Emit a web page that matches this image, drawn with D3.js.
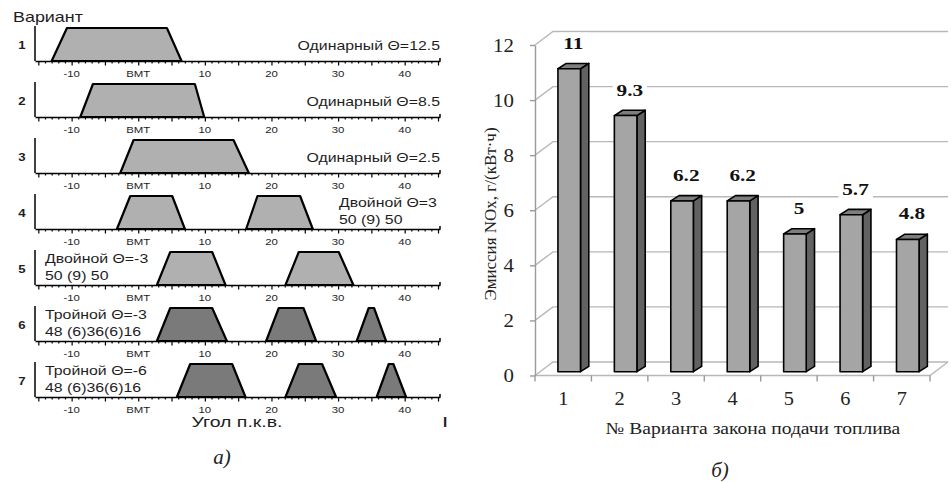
<!DOCTYPE html>
<html>
<head>
<meta charset="utf-8">
<script src="https://cdn.jsdelivr.net/npm/d3@7"></script>
<style>
  body { margin: 0; background: #fff; }
  svg { display: block; }
</style>
</head>
<body>
<svg id="chart" width="951" height="482"></svg>
<script>
// ---- Injection law variants (crank angle, degrees) ----
// every pulse: [start, top start, top end, end]
const variantIds = ["1", "2", "3", "4", "5", "6", "7"];
const pulses = [
  [[-13.0, -10.7, 4.3, 6.5]],
  [[-8.7, -6.8, 8.5, 9.9]],
  [[-2.7, -0.7, 14.3, 16.6]],
  [[-3.2, -1.2, 5.1, 7.0], [16.2, 17.9, 24.3, 26.2]],
  [[2.8, 4.8, 11.1, 13.1], [22.1, 24.1, 30.1, 32.3]],
  [[2.8, 4.8, 11.1, 13.3], [19.2, 21.1, 24.8, 26.7], [32.8, 34.6, 35.4, 37.2]],
  [[5.8, 7.8, 14.1, 16.1], [22.1, 24.1, 27.6, 29.7], [35.8, 37.6, 38.3, 40.2]]
];
const variantShade = ["light", "light", "light", "light", "light", "dark", "dark"];
const variantNotes = [
  ["Одинарный Θ=12.5"],
  ["Одинарный Θ=8.5"],
  ["Одинарный Θ=2.5"],
  ["Двойной Θ=3", "50 (9) 50"],
  ["Двойной Θ=-3", "50 (9) 50"],
  ["Тройной  Θ=-3", "48 (6)36(6)16"],
  ["Тройной  Θ=-6", "48 (6)36(6)16"]
];
const angleTicks = [-10, 0, 10, 20, 30, 40];

// ---- NOx emission for each variant, g/(kW·h) ----
const barCategories = ["1", "2", "3", "4", "5", "6", "7"];
const noxValues = [11, 9.3, 6.2, 6.2, 5, 5.7, 4.8];
const noxTicks = [0, 2, 4, 6, 8, 10, 12];

const svg = d3.select("#chart");

// text drawn slightly wide, as in the original figure
function wideText(g, x, y, str, o) {
  const t = g.append("text")
    .attr("transform", `translate(${x},${y}) scale(${o.sx || 1},1)`)
    .attr("text-anchor", o.anchor || "middle")
    .attr("dy", o.dy || "0.35em")
    .attr("font-size", o.size)
    .attr("fill", o.color || "#111")
    .text(str);
  if (o.weight) t.attr("font-weight", o.weight);
  if (o.style) t.attr("font-style", o.style);
  if (o.family) t.attr("font-family", o.family);
  return t;
}

/* ================= Left panel: injection laws ================= */
const left = svg.append("g").attr("font-family", "'Liberation Sans', Arial, sans-serif");
const SXL = 1.22;
const ink = "#1e1e1e";
const ang = d3.scaleLinear().domain([-15.5, 45.3]).range([35, 440]);
const rowBase = d3.scalePoint().domain(variantIds).range([61, 397]);
const lift = d3.scaleLinear().domain([0, 1]).range([0, -33]);
const shade = { light: "#b0b0b0", dark: "#7a7a7a" };

wideText(left, 13, 17, "Вариант", { size: 14, anchor: "start", sx: 1.28, color: ink });

variantIds.forEach((id, i) => {
  const y0 = rowBase(id);
  const row = left.append("g");

  // fuel pulses
  row.selectAll("path.pulse").data(pulses[i]).join("path")
    .attr("class", "pulse")
    .attr("d", p => d3.line()([
      [ang(p[0]), y0 + lift(0)], [ang(p[1]), y0 + lift(1)],
      [ang(p[2]), y0 + lift(1)], [ang(p[3]), y0 + lift(0)]
    ]) + "Z")
    .attr("fill", shade[variantShade[i]])
    .attr("stroke", "#000")
    .attr("stroke-width", 2.2)
    .attr("stroke-linejoin", "round");

  // vertical axis
  row.append("line")
    .attr("x1", ang.range()[0]).attr("x2", ang.range()[0])
    .attr("y1", y0).attr("y2", y0 - 35)
    .attr("stroke", "#000").attr("stroke-width", 1.5);

  // angle axis: minor ticks every degree, longer every 5
  const axis = d3.axisBottom(ang)
    .tickValues(d3.range(-15, 46))
    .tickSize(2.5).tickSizeOuter(0).tickFormat("");
  const ag = row.append("g").attr("transform", `translate(0,${y0})`).call(axis);
  ag.select(".domain").attr("stroke", "#000").attr("stroke-width", 1.6);
  ag.selectAll(".tick line").attr("stroke", "#000").attr("stroke-width", 1.2)
    .attr("y2", d => (d % 5 === 0 ? 4.5 : 2.5));
  row.append("line")
    .attr("x1", ang.range()[1]).attr("x2", ang.range()[1])
    .attr("y1", y0).attr("y2", y0 - 3)
    .attr("stroke", "#000").attr("stroke-width", 1.5);

  angleTicks.forEach(v => {
    wideText(row, ang(v), y0 + 12.5, v === 0 ? "ВМТ" : String(v), { size: 9.5, sx: 1.2, color: ink });
  });

  // variant number
  wideText(row, 22, y0 - 16, id, { size: 11, weight: "bold", sx: 1.2, color: ink });

  // description
  const notes = variantNotes[i];
  if (notes.length === 1) {
    wideText(row, 440, y0 - 16, notes[0], { size: 13, anchor: "end", sx: SXL, color: ink });
  } else {
    const nx = i === 3 ? 339 : 45;
    wideText(row, nx, y0 - 26.5, notes[0], { size: 13, anchor: "start", sx: SXL, color: ink });
    wideText(row, nx, y0 - 10, notes[1], { size: 13, anchor: "start", sx: SXL, color: ink });
  }
});

wideText(left, 237, 427, "Угол п.к.в.", { size: 15, sx: 1.3, dy: "0", color: ink });
wideText(left, 445, 427, "I", { size: 15, weight: "bold", dy: "0", color: ink });
wideText(svg, 222, 457, "а)", {
  size: 21, style: "italic", family: "'Liberation Serif', 'Times New Roman', serif", color: "#222"
});

/* ================= Right panel: NOx emission ================= */
const right = svg.append("g").attr("font-family", "'Liberation Serif', 'Times New Roman', serif");
const y = d3.scaleLinear().domain([0, 12]).range([375.5, 45]);
const x = d3.scaleBand().domain(barCategories).range([535, 930]);
const DX = 18, DY = -13.5;          // depth of the walls
const gridColor = "#b8b8b8";

// back wall gridlines and side wall diagonals
const grid = right.append("g").attr("fill", "none").attr("stroke", gridColor).attr("stroke-width", 1.4);
noxTicks.forEach(v => {
  grid.append("path").attr("d", d3.line()([
    [x.range()[0], y(v)], [x.range()[0] + DX, y(v) + DY], [x.range()[1] + DX, y(v) + DY]
  ]));
});
// floor front edge and right side
grid.append("path").attr("d", d3.line()([
  [x.range()[0], y(0)], [x.range()[1], y(0)], [x.range()[1] + DX, y(0) + DY]
]));

// value axis
const yAxis = d3.axisLeft(y).tickValues(noxTicks).tickSize(5).tickSizeOuter(0).tickFormat("");
const yg = right.append("g").attr("transform", `translate(${x.range()[0]},0)`).call(yAxis);
yg.select(".domain").attr("stroke", "#9a9a9a").attr("stroke-width", 1.4);
yg.selectAll(".tick line").attr("stroke", "#9a9a9a").attr("stroke-width", 1.4);
noxTicks.forEach(v => {
  wideText(right, 514, y(v), String(v), { size: 19, anchor: "end", sx: 1.1, color: "#222" });
});

// category axis ticks at band edges
const edges = barCategories.map(c => x(c)).concat([x.range()[1]]);
right.append("g").selectAll("line").data(edges).join("line")
  .attr("x1", d => d).attr("x2", d => d)
  .attr("y1", y(0)).attr("y2", y(0) + 6)
  .attr("stroke", "#9a9a9a").attr("stroke-width", 1.4);
barCategories.forEach(c => {
  wideText(right, x(c) + x.bandwidth() / 2, 399, c, { size: 18, sx: 1.13, color: "#222" });
});

// 3D columns
const bw = x.bandwidth() * 0.4;
const shiftX = 6, shiftY = -3.8;
const sdx = 8.3, sdy = -5.3;
const bars = right.append("g").attr("stroke", "#000").attr("stroke-width", 1.6).attr("stroke-linejoin", "round");
barCategories.forEach((c, i) => {
  const L = x(c) + (x.bandwidth() - bw) / 2 + shiftX;
  const R = L + bw;
  const top = y(noxValues[i]) + shiftY;
  const bot = y(0) + shiftY;
  bars.append("path").attr("fill", "#626262").attr("d", d3.line()([
    [R, top], [R + sdx, top + sdy], [R + sdx, bot + sdy], [R, bot]
  ]) + "Z");
  bars.append("path").attr("fill", "#7e7e7e").attr("d", d3.line()([
    [L, top], [L + sdx, top + sdy], [R + sdx, top + sdy], [R, top]
  ]) + "Z");
  bars.append("rect").attr("x", L).attr("y", top).attr("width", bw).attr("height", bot - top)
    .attr("fill", "#a5a5a5");
});

// value labels on white boxes
const lab = right.append("g");
barCategories.forEach((c, i) => {
  const cx = x(c) + x.bandwidth() / 2 + shiftX + sdx / 2;
  const cy = y(noxValues[i]) + shiftY - 26;
  const g = lab.append("g").attr("transform", `translate(${cx},${cy}) scale(1.25,1)`);
  const t = g.append("text").attr("text-anchor", "middle").attr("dy", "0.35em")
    .attr("font-size", 17).attr("font-weight", "bold").attr("fill", "#111")
    .text(String(noxValues[i]));
  const bb = t.node().getBBox();
  g.insert("rect", "text").attr("x", bb.x - 3).attr("y", bb.y - 1)
    .attr("width", bb.width + 6).attr("height", bb.height + 2).attr("fill", "#fff");
});

// axis titles
right.append("text")
  .attr("transform", `translate(490,214) rotate(-90)`)
  .attr("text-anchor", "middle").attr("dy", "0.35em")
  .attr("font-size", 17).attr("fill", "#222")
  .text("Эмиссия NOx, г/(кВт·ч)");
wideText(right, 753, 428, "№ Варианта закона подачи топлива", { size: 17, sx: 1.15, color: "#222" });
wideText(svg, 720, 470, "б)", {
  size: 21, style: "italic", family: "'Liberation Serif', 'Times New Roman', serif", color: "#222"
});
</script>
</body>
</html>
